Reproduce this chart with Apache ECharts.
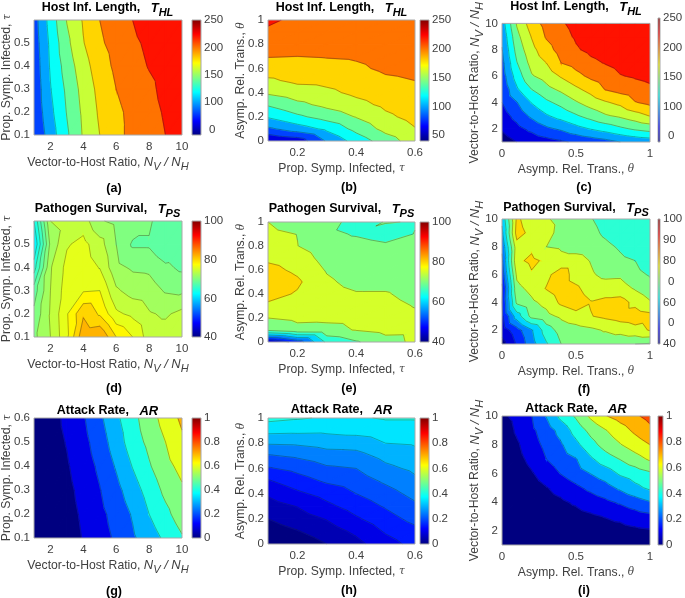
<!DOCTYPE html>
<html><head><meta charset="utf-8">
<style>html,body{margin:0;padding:0;background:#fff}#c{width:685px;height:598px}</style>
<script src="https://cdn.jsdelivr.net/npm/echarts@6/dist/echarts.min.js"></script>
</head><body><div id="c"></div>
<script>
// ---------- axis samples ----------
const nvRatio = [1,2,3,4,5,6,7,8,9,10];
const tauVals = [0.1,0.2,0.3,0.4,0.5,0.6];
const thetaVals = [0,0.1,0.2,0.3,0.4,0.5,0.6,0.7,0.8,0.9,1];

// ---------- values: rows follow the y axis, columns the x axis ----------
const hostLenNvTau = [
 [80,110,137,162,180,195,205,212,220,227],
 [84,115,141,164,183,196,205,214,222,228],
 [85,119,144,167,186,200,209,216,225,231],
 [87,122,149,172,191,204,213,221,227,235],
 [89,124,155,179,197,207,216,224,231,237],
 [91,128,161,182,200,210,220,230,235,239]];
const hostLenTauTheta = [ // rows theta, cols tau
 [60,68,102,128,150,170],
 [96,110,124,146,166,179],
 [122,136,148,161,176,186],
 [142,155,165,174,184,192],
 [163,171,176,184,191,196],
 [177,184,185,190,197,200],
 [190,192,194,197,203,205],
 [201,200,201,202,206,208],
 [208,205,205,205,210,211],
 [216,211,209,209,212,214],
 [224,215,213,212,214,216]];
const hostLenThetaNv = [
 [50,60,66,72,77,83,88,93,100,105,108],
 [62,74,85,96,103,113,121,128,136,143,148],
 [71,87,104,118,128,138,148,158,164,172,181],
 [80,99,121,136,146,158,169,178,185,199,205],
 [84,117,140,154,164,176,187,201,207,212,216],
 [90,129,158,168,182,194,204,211,219,222,225],
 [94,139,167,180,200,207,216,221,226,229,232],
 [99,147,174,192,208,218,224,228,232,235,238],
 [104,154,181,202,214,222,228,232,237,240,243],
 [110,162,190,207,218,225,231,236,240,243,246]];
const survivalNvTau = [
 [71.5,74,77.6,83.5,84,80,78,75,75,75.5],
 [70.5,74.2,77.8,81.7,79.7,76.4,75.5,74.2,73.7,74.6],
 [69,74,77,77.8,78,74.3,73.2,72.9,71.8,71.6],
 [65,73.8,76.6,77,75.9,72.5,71.7,71.6,70.4,69.6],
 [62,72.5,75.8,76.6,74.8,72,69.7,69.7,68.2,68.5],
 [64,74,75,75,72.2,71.5,71.3,70.5,68,68]];
const survivalTauTheta = [ // rows theta, cols tau
 [45,52,66,69.5,73,76],
 [71,73.5,73.8,75.2,76.5,76.3],
 [75,76,75.8,76,77,76],
 [79,78,77,76,76.5,74.8],
 [81.8,79.5,77,75.4,75.4,73.5],
 [83.5,80.8,75.8,73.5,73.5,72.5],
 [81.5,79,74.6,72.5,72,72],
 [79,77.5,73.2,72,71,71.5],
 [77.5,75.1,72,71.5,70.6,71],
 [76,74.9,71,69.6,68.5,70.1],
 [75,73,72,68,70.2,69.8]];
const survivalThetaNv = [
 [43,50.5,58,64.5,70,71,71.5,71,70.5,70,69.5],
 [47,53,59.5,67.5,72,73,74,75.5,77,78.5,80.3],
 [49,62.5,71.5,73.5,76,78,79.8,81,82,82.5,81.5],
 [50,71,74,76.5,81,83,80.3,81.5,82,78.5,75.5],
 [49,73.5,76.5,80.3,83,81,77.5,77,77,74.5,72],
 [52,76,79.5,78.5,83,77.5,75.5,74,74.2,71.5,69.5],
 [54,79,81,79.1,76.5,76.5,74.8,73,71,70,67],
 [56,78,79,75,74.3,73.5,73,71.2,69.3,67.5,66],
 [59,82,78.5,77,73,72,71.5,69,67,66.5,66],
 [61,81,77,75.5,73.5,72,70.3,68,66.5,66,65.5]];
const attackNvTau = [
 [.01,.025,.055,.105,.16,.215,.285,.35,.42,.49],
 [.01,.03,.065,.115,.175,.235,.31,.4,.475,.55],
 [.015,.04,.075,.13,.195,.27,.355,.44,.525,.585],
 [.02,.05,.09,.15,.22,.31,.405,.49,.57,.63],
 [.02,.06,.105,.17,.25,.35,.45,.525,.6,.68],
 [.03,.065,.12,.19,.28,.38,.47,.555,.64,.72]];
const attackTauTheta = [ // rows theta, cols tau
 [.005,.02,.05,.085,.13,.165],
 [.025,.047,.075,.11,.155,.185],
 [.05,.075,.103,.143,.18,.215],
 [.078,.102,.138,.172,.205,.24],
 [.107,.14,.168,.2,.23,.265],
 [.145,.177,.207,.225,.258,.29],
 [.195,.215,.242,.25,.288,.31],
 [.245,.258,.278,.283,.315,.335],
 [.305,.308,.32,.322,.35,.355],
 [.365,.362,.36,.367,.378,.38],
 [.415,.405,.395,.395,.404,.404]];
const attackThetaNv = [
 [0,0,.002,.005,.008,.01,.012,.015,.02,.025,.03],
 [0,.003,.01,.015,.025,.035,.045,.055,.065,.08,.09],
 [0,.005,.015,.03,.045,.065,.085,.105,.125,.155,.175],
 [0,.01,.03,.06,.085,.115,.15,.18,.215,.255,.295],
 [.005,.02,.05,.095,.135,.18,.225,.265,.32,.375,.42],
 [.005,.035,.09,.15,.205,.255,.303,.35,.415,.45,.485],
 [.01,.065,.13,.2,.25,.295,.385,.455,.505,.56,.615],
 [.02,.085,.16,.225,.29,.375,.465,.54,.595,.65,.7],
 [.03,.115,.18,.25,.335,.44,.53,.595,.656,.72,.775],
 [.075,.135,.197,.305,.43,.515,.62,.695,.74,.785,.83]];

// ---------- contour levels ----------
const levelsHost = [40,60,80,100,120,140,160,180,200,220];
const levelsSurvivalFine = [60,62,64,66,68,70,72,74,76,78,80,82];
const levelsSurvival = [40,45,50,55,60,65,70,75,80];
const levelsAttack = [0,.1,.2,.3,.4,.5,.6,.7,.8];
const levelsAttackFine = [0,.05,.1,.15,.2,.25,.3,.35,.4];

// ---------- tick labels ----------
const ticksNv = [2,4,6,8,10];
const ticksTauA = [.1,.2,.3,.4,.5];
const ticksTauB = [.1,.2,.3,.4,.5,.6];
const ticksTauX = [.2,.4,.6];
const ticksTheta = [0,.2,.4,.6,.8,1];
const ticksThetaX = [0,.5,1];
const cbHost = [50,100,150,200,250];
const cbHostLabelsClipped = ['0','100','150','200','250'];
const cbHostLabels = ['50','100','150','200','250'];
const cbSurv = [40,60,80,100];
const cbSurvF = [40,50,60,70,80,90,100];
const cbSurvFLabels = ['40','0','60','0','80','90','100'];
const cbAttack = [0,.2,.4,.6,.8,1];

const titleHost = ['Host Inf. Length,   ','T','HL'];
const titleSurv = ['Pathogen Survival,   ','T','PS'];
const titleAttack = ['Attack Rate,   ','AR',''];

// ---------- layout ----------
const col = [{l:33,r:182,cl:192,cr:201,tx:107.5,let:114},{l:268,r:415,cl:420,cr:429,tx:341.5,let:349},{l:502,r:650,cl:658,cr:666,tx:576,let:584}];
const Sans = 'Liberation Sans';
const textC = '#404040';
const frameC = '#a8a8a8';
const nameNv = 'nv', nameTau = 'tau', nameTheta = 'theta';

const panels = [
 {c:0,t:20,b:135,tt:6,lt:189,x:nvRatio,y:tauVals,z:hostLenNvTau,lv:levelsHost,cb:[40,250],cbT:cbHost,cbL:cbHostLabelsClipped,xt:ticksNv,yt:ticksTauA,xn:nameNv,yn:nameTau,ti:titleHost,let:'(a)'},
 {c:1,t:20,b:141,tt:6,lt:188,x:tauVals,y:thetaVals,z:hostLenTauTheta,lv:levelsHost,cb:[40,250],cbT:cbHost,cbL:cbHostLabels,xt:ticksTauX,yt:ticksTheta,xn:nameTau,yn:nameTheta,ti:titleHost,let:'(b)'},
 {c:2,t:18,b:142,tt:5,lt:188,x:thetaVals,y:nvRatio,z:hostLenThetaNv,lv:levelsHost,cb:[40,250],cbT:cbHost,cbL:cbHostLabelsClipped,xt:ticksThetaX,yt:ticksNv,xn:nameTheta,yn:nameNv,ti:titleHost,let:'(c)'},
 {c:0,t:221,b:337,tt:207,lt:389,x:nvRatio,y:tauVals,z:survivalNvTau,lv:levelsSurvivalFine,cb:[40,100],cbT:cbSurv,cbL:cbSurv.map(String),xt:ticksNv,yt:ticksTauA,xn:nameNv,yn:nameTau,ti:titleSurv,let:'(d)'},
 {c:1,t:222,b:342,tt:207,lt:389,x:tauVals,y:thetaVals,z:survivalTauTheta,lv:levelsSurvival,cb:[40,100],cbT:cbSurv,cbL:cbSurv.map(String),xt:ticksTauX,yt:ticksTheta,xn:nameTau,yn:nameTheta,ti:titleSurv,let:'(e)'},
 {c:2,t:219,b:344,tt:206,lt:390,x:thetaVals,y:nvRatio,z:survivalThetaNv,lv:levelsSurvival,cb:[40,100],cbT:cbSurvF,cbL:cbSurvFLabels,xt:ticksThetaX,yt:ticksNv,xn:nameTheta,yn:nameNv,ti:titleSurv,let:'(f)'},
 {c:0,t:418,b:538,tt:409,lt:592,x:nvRatio,y:tauVals,z:attackNvTau,lv:levelsAttack,cb:[0,1],cbT:cbAttack,cbL:cbAttack.map(String),xt:ticksNv,yt:ticksTauB,xn:nameNv,yn:nameTau,ti:titleAttack,let:'(g)'},
 {c:1,t:418,b:544,tt:408,lt:591,x:tauVals,y:thetaVals,z:attackTauTheta,lv:levelsAttackFine,cb:[0,1],cbT:cbAttack,cbL:cbAttack.map(String),xt:ticksTauX,yt:ticksTheta,xn:nameTau,yn:nameTheta,ti:titleAttack,let:'(h)'},
 {c:2,t:416,b:545,tt:407,lt:591,x:thetaVals,y:nvRatio,z:attackThetaNv,lv:levelsAttack,cb:[0,1],cbT:cbAttack,cbL:cbAttack.map(String),xt:ticksThetaX,yt:ticksNv,xn:nameTheta,yn:nameNv,ti:titleAttack,let:'(i)'}
];

// ---------- helpers ----------
const cl = v => Math.max(0,Math.min(1,v));
function jet(t){
  const r=cl(1.5-Math.abs(4*t-3)),g=cl(1.5-Math.abs(4*t-2)),b=cl(1.5-Math.abs(4*t-1));
  return `rgb(${Math.round(r*255)},${Math.round(g*255)},${Math.round(b*255)})`;
}
function clip(poly,level,keepAbove){
  const out=[];
  for(let i=0;i<poly.length;i++){
    const a=poly[i],b=poly[(i+1)%poly.length];
    const ia=keepAbove?a[2]>=level:a[2]<=level, ib=keepAbove?b[2]>=level:b[2]<=level;
    if(ia) out.push(a);
    if(ia!==ib){const f=(level-a[2])/(b[2]-a[2]);out.push([a[0]+f*(b[0]-a[0]),a[1]+f*(b[1]-a[1]),level]);}
  }
  return out;
}
function triangles(p,i,j){
  const q=(ii,jj)=>[p.x[ii],p.y[jj],p.z[jj][ii]];
  const A=q(i,j),B=q(i+1,j),C=q(i+1,j+1),D=q(i,j+1);
  return [[A,B,C],[A,C,D]];
}
function fillItem(p){
  return function(params,api){
    const i=api.value(2),j=api.value(3),children=[];
    triangles(p,i,j).forEach(tri=>{
      p.lv.forEach((lo,k)=>{
        let poly=tri;
        if(k>0) poly=clip(poly,lo,true);
        if(poly.length>=3&&k<p.lv.length-1) poly=clip(poly,p.lv[k+1],false);
        if(poly.length<3) return;
        const col=jet((lo-p.cb[0])/(p.cb[1]-p.cb[0]));
        children.push({type:'polygon',shape:{points:poly.map(v=>api.coord([v[0],v[1]]))},style:{fill:col,stroke:col,lineWidth:1.3},silent:true});
      });
    });
    return {type:'group',children};
  };
}
function lineItem(p){
  return function(params,api){
    const i=api.value(2),j=api.value(3),children=[];
    triangles(p,i,j).forEach(tri=>{
      p.lv.forEach((lv,k)=>{
        if(k===0) return;
        const pts=[];
        for(let e=0;e<3;e++){
          const a=tri[e],b=tri[(e+1)%3];
          if((a[2]<lv)!==(b[2]<lv)){const f=(lv-a[2])/(b[2]-a[2]);pts.push(api.coord([a[0]+f*(b[0]-a[0]),a[1]+f*(b[1]-a[1])]));}
        }
        if(pts.length===2) children.push({type:'line',shape:{x1:pts[0][0],y1:pts[0][1],x2:pts[1][0],y2:pts[1][1]},style:{stroke:'rgba(30,40,30,0.5)',lineWidth:0.7},silent:true});
      });
    });
    if(params.dataIndex===0){
      const a=api.coord([p.x[0],p.y[p.y.length-1]]),b=api.coord([p.x[p.x.length-1],p.y[0]]);
      children.push({type:'rect',shape:{x:a[0],y:a[1],width:b[0]-a[0],height:b[1]-a[1]},style:{fill:'none',stroke:frameC,lineWidth:1},silent:true,z2:50});
    }
    return {type:'group',children};
  };
}
function nameRich(){
  const base={fontFamily:Sans,fontSize:12.2,color:textC,lineHeight:20};
  return {
    b:base,
    i:Object.assign({},base,{fontStyle:'italic',fontSize:13}),
    s:{fontFamily:Sans,fontSize:11,color:textC,fontStyle:'italic',verticalAlign:'bottom'},
    g:Object.assign({},base,{fontFamily:'DejaVu Serif',fontStyle:'italic',fontSize:10.5})
  };
}
const names={
  nv:'{b|Vector-to-Host Ratio, }{i|N}{s|V}{i| / N}{s|H}',
  tau:'{b|Prop. Symp. Infected, }{g|\u03c4}',
  theta:'{b|Asymp. Rel. Trans., }{g|\u03b8}'
};
function fmt(v){return String(+v.toFixed(2));}

// ---------- build option ----------
const grid=[],xAxis=[],yAxis=[],series=[],title=[];
const jetStops=[];for(let s=0;s<=32;s++)jetStops.push({offset:s/32,color:jet(s/32)});
panels.forEach(p=>{
  const C=col[p.c];
  const gi=grid.length;
  grid.push({left:C.l,top:p.t,width:C.r-C.l,height:p.b-p.t,containLabel:false});
  xAxis.push({gridIndex:gi,type:'value',min:p.x[0],max:p.x[p.x.length-1],
    name:names[p.xn],nameLocation:'middle',nameGap:17.5,nameMoveOverlap:false,
    nameTextStyle:{verticalAlign:'top',rich:nameRich()},
    axisLine:{show:false},axisTick:{show:false},splitLine:{show:false},
    axisLabel:{customValues:p.xt,formatter:fmt,hideOverlap:false,showMinLabel:true,showMaxLabel:true,color:textC,fontFamily:Sans,fontSize:11.5,margin:6}});
  yAxis.push({gridIndex:gi,type:'value',min:p.y[0],max:p.y[p.y.length-1],
    name:names[p.yn],nameLocation:'middle',nameGap:17,nameMoveOverlap:false,
    nameTextStyle:{verticalAlign:'bottom',rich:nameRich()},
    axisLine:{show:false},axisTick:{show:false},splitLine:{show:false},
    axisLabel:{customValues:p.yt,formatter:fmt,hideOverlap:false,showMinLabel:true,showMaxLabel:true,color:textC,fontFamily:Sans,fontSize:11.5,margin:4}});
  const cells=[];
  for(let j=0;j<p.y.length-1;j++)for(let i=0;i<p.x.length-1;i++)cells.push([p.x[i],p.y[j],i,j]);
  series.push({type:'custom',coordinateSystem:'cartesian2d',xAxisIndex:gi,yAxisIndex:gi,data:cells,encode:{x:0,y:1},renderItem:fillItem(p),clip:true,silent:true,z:2});
  series.push({type:'custom',coordinateSystem:'cartesian2d',xAxisIndex:gi,yAxisIndex:gi,data:cells,encode:{x:0,y:1},renderItem:lineItem(p),clip:false,silent:true,z:3});

  // colour bar
  const bi=grid.length;
  grid.push({left:C.cl,top:p.t,width:C.cr-C.cl,height:p.b-p.t,containLabel:false});
  xAxis.push({gridIndex:bi,type:'value',min:0,max:1,show:false});
  const labelOf=new Map(p.cbT.map((v,i)=>[v,p.cbL[i]]));
  yAxis.push({gridIndex:bi,type:'value',position:'right',min:p.cb[0],max:p.cb[1],
    axisLine:{show:false},axisTick:{show:false},splitLine:{show:false},
    axisLabel:{customValues:p.cbT,hideOverlap:false,showMinLabel:true,showMaxLabel:true,
      formatter:v=>{const s=String(labelOf.get(+v.toFixed(2)));return s==='0'&&p.cb[0]>0?'{z|0}':s;},
      rich:{z:{padding:[0,0,0,5],color:textC,fontFamily:Sans,fontSize:11.5}},
      color:textC,fontFamily:Sans,fontSize:11.5,margin:3}});
  series.push({type:'custom',coordinateSystem:'cartesian2d',xAxisIndex:bi,yAxisIndex:bi,data:[[0,p.cb[0],1,p.cb[1]]],encode:{x:0,y:1},silent:true,clip:false,
    renderItem:(params,api)=>{
      const a=api.coord([0,p.cb[1]]),b=api.coord([1,p.cb[0]]);
      return {type:'rect',shape:{x:a[0],y:a[1],width:b[0]-a[0],height:b[1]-a[1]},silent:true,
        style:{fill:new echarts.graphic.LinearGradient(0,1,0,0,jetStops),stroke:frameC,lineWidth:1}};
    }});

  // title + panel letter
  const tr={b:{fontFamily:Sans,fontWeight:'bold',fontSize:12.5,color:'#000',lineHeight:20},
            T:{fontFamily:Sans,fontWeight:'bold',fontStyle:'italic',fontSize:13,color:'#000',lineHeight:20},
            S:{fontFamily:Sans,fontWeight:'bold',fontStyle:'italic',fontSize:11,color:'#000',verticalAlign:'bottom'}};
  const sub=p.ti[2]?`{S|${p.ti[2]}}`:'';
  title.push({left:C.tx,top:p.tt-8,padding:0,textAlign:'center',text:`{b|${p.ti[0]}}{T|${p.ti[1]}}${sub}`,textStyle:{rich:tr}});
  title.push({left:C.let,top:p.lt-6.5,padding:0,textAlign:'center',text:p.let,textStyle:{fontFamily:Sans,fontWeight:'bold',fontSize:12.5,color:'#000'}});
});

const chart=echarts.init(document.getElementById('c'),null,{renderer:'canvas'});
chart.setOption({animation:false,backgroundColor:'#fff',title,grid,xAxis,yAxis,series});
</script>
</body></html>
